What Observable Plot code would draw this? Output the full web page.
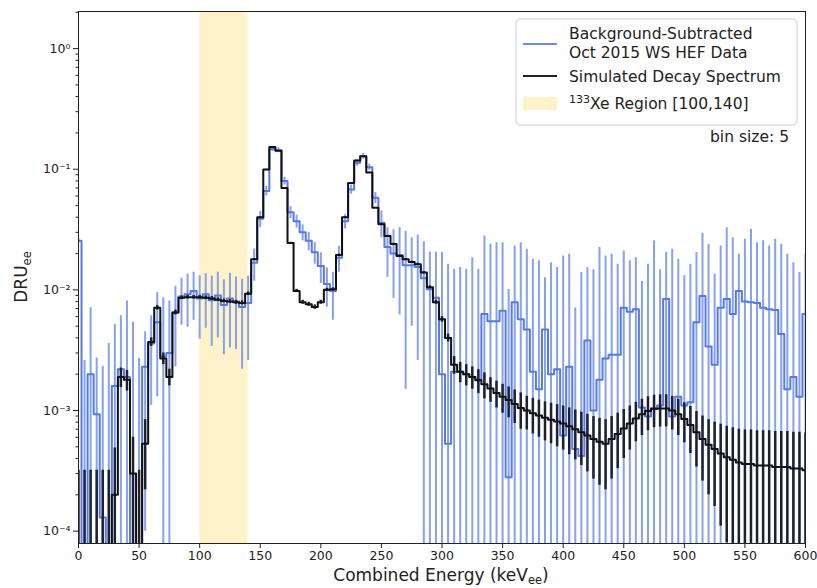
<!DOCTYPE html>
<html><head><meta charset="utf-8">
<script src="https://cdn.jsdelivr.net/npm/d3@7"></script>
<script src="https://cdn.jsdelivr.net/npm/@observablehq/plot@0.6"></script>
<style>body{margin:0;background:#fff;} #chart{width:817px;height:588px;}</style>
</head><body><div id="chart"></div>
<script>
// Bin centres (keV), bin size 5: 0, 5, ..., 600
const binCenters = d3.range(0, 601, 5);
const binSize = 5;

// Background-subtracted data (DRU_ee) and its error
const dataValue = [
 0.0255,-0.0008,0.0020,0.00093,0.00013,-0.0004,0.0016,0.0022,0.0019,-0.0005,
 -0.0010,0.0023,0.0036,0.0054,0.0028,0.0030,0.0065,0.0088,0.0092,0.0098,
 0.0085,0.0092,0.0082,0.0090,0.0075,0.0085,0.0080,0.0072,0.0078,
 0.0168,0.0388,0.066,0.147,0.144,0.080,0.044,0.037,0.030,0.0255,0.0205,0.0158,
 0.0112,0.0098,0.0185,0.037,0.068,0.113,0.128,0.104,0.058,0.036,
 0.0227,0.020,0.0195,0.016,0.016,0.0155,0.0125,0.0101,0.0086,0.0020,
 0.00053,0.0021,0.0021,0.0020,0.0019,0.0018,0.0063,0.0055,0.0055,0.0067,
 0.00028,0.0079,0.0057,0.0047,0.0021,0.0015,0.0047,0.0020,0.0022,0.00062,
 0.0023,0.00048,0.00042,0.0038,0.0010,0.0018,0.0027,0.0029,0.0029,0.0071,
 0.0066,0.0069,0.00106,0.00089,0.00105,0.0011,0.0084,0.00089,0.0013,0.0011,
 0.00117,0.0054,0.0089,0.0034,0.0024,0.0071,0.0084,0.0063,0.0098,0.0080,
 0.0079,0.0078,0.0071,0.0069,0.0068,0.0043,0.0015,0.0019,0.0013,0.0063
];
const dataError = [
 0.0010,0.0034,0.0051,0.0018,0.0022,0.0040,0.0036,0.0039,0.0062,0.0059,
 0.0037,0.0022,0.0025,0.0041,0.0058,0.0051,0.0042,0.0037,0.0043,0.0042,
 0.0046,0.0044,0.0048,0.0050,0.0046,0.0052,0.0048,0.0050,0.0052,
 0.0050,0.0060,0.0060,0.0070,0.0070,0.0060,0.0050,0.0045,0.0045,0.0045,0.0042,0.0045,
 0.0040,0.0042,0.0045,0.0050,0.0060,0.0070,0.0070,0.0060,0.0060,0.0090,
 0.0100,0.0115,0.0133,0.0145,0.0110,0.0129,0.0125,0.0105,0.0120,0.0184,
 0.0158,0.0127,0.0132,0.0128,0.0166,0.0130,0.0217,0.0184,0.0191,0.0179,
 0.0098,0.0152,0.0189,0.0170,0.0158,0.0159,0.0079,0.0148,0.0131,0.0185,
 0.0174,0.0066,0.0135,0.0115,0.0137,0.0206,0.0164,0.0168,0.0134,0.0139,
 0.0108,0.0116,0.0107,0.0154,0.0245,0.0136,0.0120,0.0208,0.0166,0.0120,
 0.0151,0.0150,0.0205,0.0205,0.0111,0.0160,0.0244,0.0207,0.0099,0.0183,
 0.0237,0.0168,0.0184,0.0162,0.0195,0.0196,0.0182,0.0149,0.0126,0.0134
];

// Simulated decay spectrum and its error
const simValue = [
 0,0,0,0,0,0,0.00020,0.0019,0.0018,0.00030,
 0,0.00053,0.0037,0.0071,0.0027,0.0019,0.0065,0.0086,0.0087,0.0087,
 0.0087,0.0086,0.0085,0.0083,0.0081,0.0080,0.0079,0.0078,0.0093,
 0.0179,0.040,0.0995,0.153,0.142,0.070,0.0245,0.0098,0.0079,0.0076,0.0072,0.0079,
 0.0100,0.0101,0.0195,0.040,0.077,0.118,0.128,0.094,0.048,0.035,
 0.028,0.024,0.0191,0.0179,0.0170,0.0163,0.0139,0.0105,0.0079,0.0057,
 0.0040,0.0024,0.0021,0.0020,0.0019,0.00178,0.00165,0.00152,0.00140,0.00130,
 0.00122,0.00113,0.00105,0.00100,0.00095,0.00091,0.00087,0.00084,0.00081,0.00078,
 0.00074,0.00070,0.00066,0.00062,0.00058,0.00055,0.00053,0.00058,0.00064,0.00071,
 0.00078,0.00086,0.00093,0.00099,0.00103,0.00104,0.00104,0.00100,0.00093,0.00085,
 0.00076,0.00066,0.00058,0.00052,0.00048,0.00044,0.00041,0.00039,0.00037,0.00036,
 0.00036,0.00035,0.00035,0.00035,0.00034,0.00034,0.00034,0.00033,0.00033,0.00032
];
const simError = [
 0.00032,0.00032,0.00032,0.00032,0.00032,0.00032,0.00029,0.00035,0.00035,0.00030,
 0.00032,0.00031,0.00030,0.00030,0.00030,0.00030,0.00030,0.00030,0.00030,0.00030,
 0.00030,0.00030,0.00030,0.00030,0.00030,0.00030,0.00030,0.00030,0.00030,
 0.00030,0.00030,0.00030,0.00030,0.00030,0.00030,0.00030,0.00030,0.00030,0.00030,0.00030,0.00030,
 0.00030,0.00030,0.00030,0.00030,0.00030,0.00030,0.00030,0.00030,0.00030,0.00030,
 0.00030,0.00030,0.00030,0.00030,0.00030,0.00030,0.00030,0.00030,0.00030,0.00030,
 0.00030,0.00040,0.00040,0.00040,0.00040,0.00040,0.00040,0.00035,0.00035,0.00035,
 0.00035,0.00035,0.00035,0.00031,0.00031,0.00031,0.00031,0.00031,0.00031,0.00031,
 0.00031,0.00031,0.00031,0.00031,0.00031,0.00031,0.00031,0.00031,0.00031,0.00031,
 0.00031,0.00031,0.00031,0.00031,0.00031,0.00031,0.00031,0.00031,0.00031,0.00031,
 0.00032,0.00032,0.00032,0.00032,0.00032,0.00033,0.00033,0.00033,0.00033,0.00033,
 0.00033,0.00033,0.00033,0.00033,0.00033,0.00033,0.00033,0.00033,0.00033,0.00033
];

// Highlighted region and axis ticks
const xeRegion = [{from: 100, to: 140}];
const xTicks = [0,50,100,150,200,250,300,350,400,450,500,550,600];
const yMajorTicks = [1e-4,1e-3,1e-2,1e-1,1];
const yMinorTicks = [2,3,4,5,6,7,8,9].flatMap(m => yMajorTicks.map(d => m*d)).filter(v => v < 2.03);
const yDomain = [7.9e-5, 2.03];

const FLOOR = 1e-7;
const rows = binCenters.map((c, i) => ({
  c, dv: dataValue[i], de: dataError[i], sv: simValue[i], se: simError[i]
}));
const steps = key => [
  ...rows.map(r => ({x: r.c - binSize/2, y: Math.max(r[key], FLOOR)})),
  {x: rows[rows.length-1].c + binSize/2, y: Math.max(rows[rows.length-1][key], FLOOR)}
];
const supMap = {"-":"⁻","0":"⁰","1":"¹","2":"²","3":"³","4":"⁴"};
const sup = d => "10" + String(Math.round(Math.log10(d))).split("").map(ch => supMap[ch]).join("");

const BLUE = "#5679e4", BLUEBAR = "#86a1ee", BLACK = "#111111", BLACKBAR = "#1c2231";

const plot = Plot.plot({
  width: 817, height: 588,
  marginLeft: 78, marginRight: 12, marginTop: 11, marginBottom: 45,
  style: {fontFamily: "DejaVu Sans", fontSize: "12.5px", color: "#222", background: "#fff"},
  x: {domain: [0, 600]},
  y: {type: "log", domain: yDomain},
  marks: [
    Plot.rect(xeRegion, {x1: "from", x2: "to", y1: () => yDomain[0], y2: () => yDomain[1], fill: "#fdf2c8"}),
    Plot.ruleX(rows, {x: "c", y1: d => Math.max(d.dv - d.de, FLOOR), y2: d => d.dv + d.de, stroke: BLUEBAR, strokeWidth: 2, clip: true}),
    Plot.line(steps("dv"), {x: "x", y: "y", curve: "step-after", stroke: BLUE, strokeWidth: 2, clip: true}),
    Plot.ruleX(rows, {x: "c", y1: d => Math.max(d.sv - d.se, FLOOR), y2: d => d.sv + d.se, stroke: BLACKBAR, strokeWidth: 2.5, clip: true}),
    Plot.line(steps("sv"), {x: "x", y: "y", curve: "step-after", stroke: BLACK, strokeWidth: 2, clip: true}),
    Plot.frame({stroke: "#222", strokeWidth: 1}),
    Plot.axisX({ticks: xTicks, tickSize: 5, tickPadding: 3, label: null, fontSize: 12.5}),
    Plot.axisY({ticks: yMajorTicks, tickFormat: sup, tickSize: 5, tickPadding: 3, label: null, fontSize: 12.5}),
    Plot.axisY({ticks: yMinorTicks, tickFormat: () => "", tickSize: 2.5, label: null})
  ]
});
document.getElementById("chart").appendChild(plot);

// Axis titles and legend (text with sub/superscripts)
const svg = d3.select(plot);
const xl = svg.append("text").attr("x", 441).attr("y", 581).attr("text-anchor", "middle")
  .style("font-family", "DejaVu Sans").style("font-size", "17px").attr("fill", "#222");
xl.append("tspan").text("Combined Energy (keV");
xl.append("tspan").attr("dy", 3).style("font-size", "11.5px").text("ee");
xl.append("tspan").attr("dy", -3).text(")");

const yl = svg.append("text").attr("transform", "translate(27,277) rotate(-90)").attr("text-anchor", "middle")
  .style("font-family", "DejaVu Sans").style("font-size", "17px").attr("fill", "#222");
yl.append("tspan").text("DRU");
yl.append("tspan").attr("dy", 4).style("font-size", "11.5px").text("ee");

const lg = svg.append("g").attr("text-anchor", "start").style("font-family", "DejaVu Sans").style("font-size", "15.5px").attr("fill", "#222");
lg.append("rect").attr("x", 516).attr("y", 19).attr("width", 281).attr("height", 106).attr("rx", 4)
  .attr("fill", "#fff").attr("fill-opacity", 0.85).attr("stroke", "#d0d0d0");
lg.append("line").attr("x1", 523).attr("x2", 557).attr("y1", 44).attr("y2", 44).attr("stroke", "#6d8be8").attr("stroke-width", 2);
lg.append("text").attr("x", 569).attr("y", 38.5).text("Background-Subtracted");
lg.append("text").attr("x", 569).attr("y", 57.5).text("Oct 2015 WS HEF Data");
lg.append("line").attr("x1", 523).attr("x2", 557).attr("y1", 76).attr("y2", 76).attr("stroke", "#222").attr("stroke-width", 2);
lg.append("text").attr("x", 569).attr("y", 82).text("Simulated Decay Spectrum");
lg.append("rect").attr("x", 523).attr("y", 97).attr("width", 34).attr("height", 13).attr("fill", "#fdf2c8");
const xe = lg.append("text").attr("x", 569).attr("y", 109);
xe.append("tspan").attr("dy", -6).style("font-size", "11px").text("133");
xe.append("tspan").attr("dy", 6).text("Xe Region [100,140]");
svg.append("text").attr("x", 789).attr("y", 142).attr("text-anchor", "end")
  .style("font-family", "DejaVu Sans").style("font-size", "15.5px").attr("fill", "#222").text("bin size: 5");
</script>
</body></html>
